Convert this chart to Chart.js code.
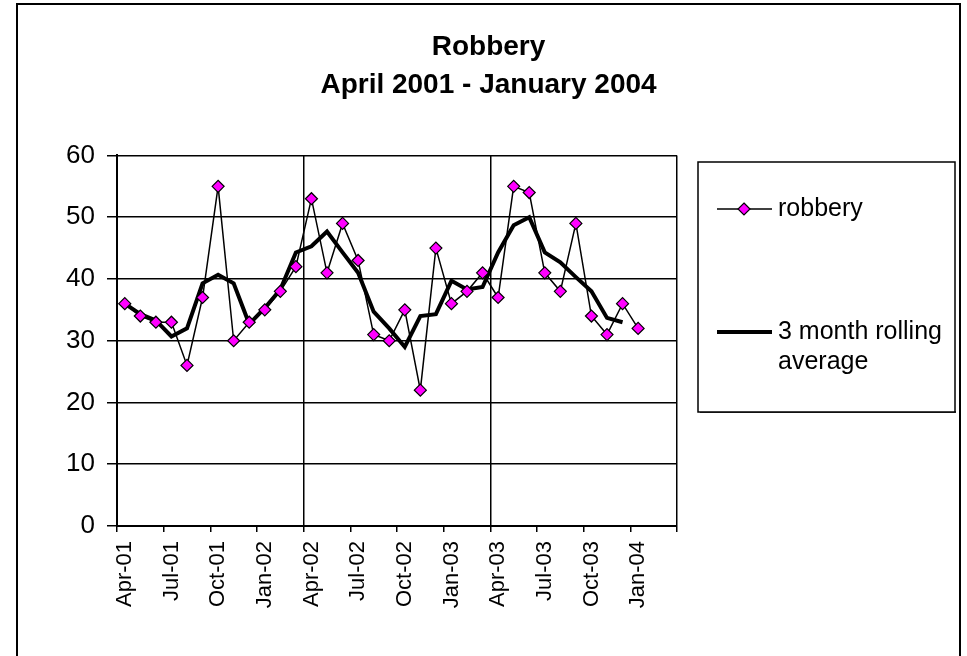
<!DOCTYPE html>
<html>
<head>
<meta charset="utf-8">
<script src="https://cdn.jsdelivr.net/npm/chart.js@4/dist/chart.umd.min.js"></script>
<style>
  html, body { margin: 0; padding: 0; background: #fff; }
  #wrap { width: 967px; height: 656px; position: relative; }
</style>
</head>
<body>
<div id="wrap"><canvas id="c"></canvas></div>
<script>
// ---- Data ----
const titleLines = ['Robbery', 'April 2001 - January 2004'];
const months = [
  'Apr-01','May-01','Jun-01','Jul-01','Aug-01','Sep-01','Oct-01','Nov-01','Dec-01',
  'Jan-02','Feb-02','Mar-02','Apr-02','May-02','Jun-02','Jul-02','Aug-02','Sep-02',
  'Oct-02','Nov-02','Dec-02','Jan-03','Feb-03','Mar-03','Apr-03','May-03','Jun-03',
  'Jul-03','Aug-03','Sep-03','Oct-03','Nov-03','Dec-03','Jan-04','Feb-04','Mar-04'
];
const robbery = [36, 34, 33, 33, 26, 37, 55, 30, 33, 35, 38, 42, 53, 41, 49, 43, 31, 30,
                 35, 22, 45, 36, 38, 41, 37, 55, 54, 41, 38, 49, 34, 31, 36, 32];
const rollingAvg = [36, 34.3, 33.3, 30.7, 32, 39.3, 40.7, 39.3, 32.7, 35.3, 38.3, 44.3,
                    45.3, 47.7, 44.3, 41, 34.7, 32, 29, 34, 34.3, 39.7, 38.3, 38.7,
                    44.3, 48.7, 50, 44.3, 42.7, 40.3, 38, 33.7, 33, null];
const seriesLabels = ['robbery', '3 month rolling average'];
const yTicks = [0, 10, 20, 30, 40, 50, 60];

const FONT = '"Liberation Sans", Arial, Helvetica, sans-serif';
const MAGENTA = '#FF00FF';

// Frame + background
const framePlugin = {
  id: 'frame',
  beforeDraw(chart) {
    const ctx = chart.ctx;
    ctx.save();
    ctx.fillStyle = '#fff';
    ctx.fillRect(0, 0, chart.width, chart.height);
    ctx.strokeStyle = '#000';
    ctx.lineWidth = 2;
    ctx.strokeRect(17, 4, 943, 700);
    ctx.restore();
  }
};

// Legend box drawn from dataset definitions
const legendPlugin = {
  id: 'boxLegend',
  afterDraw(chart) {
    const ctx = chart.ctx;
    const ds = chart.data.datasets;
    ctx.save();
    ctx.fillStyle = '#444';
    ctx.fillRect(700, 411, 256, 2);
    ctx.fillStyle = '#fff';
    ctx.fillRect(698, 162, 257, 250);
    ctx.strokeStyle = '#000';
    ctx.lineWidth = 1.5;
    ctx.strokeRect(698, 162, 257, 250);

    ctx.font = '25px ' + FONT;
    ctx.fillStyle = '#000';
    ctx.textBaseline = 'middle';
    ctx.textAlign = 'left';

    // entry 1: robbery
    let y = 209;
    ctx.strokeStyle = ds[0].borderColor;
    ctx.lineWidth = ds[0].borderWidth;
    ctx.beginPath(); ctx.moveTo(717, y); ctx.lineTo(772, y); ctx.stroke();
    ctx.fillStyle = ds[0].pointBackgroundColor;
    ctx.strokeStyle = ds[0].pointBorderColor;
    ctx.lineWidth = ds[0].pointBorderWidth;
    const r = ds[0].pointRadius;
    ctx.beginPath();
    ctx.moveTo(744, y - r); ctx.lineTo(744 + r, y); ctx.lineTo(744, y + r); ctx.lineTo(744 - r, y); ctx.closePath();
    ctx.fill(); ctx.stroke();
    ctx.fillStyle = '#000';
    ctx.fillText(ds[0].label, 778, y);

    // entry 2: rolling average (wrapped over two lines)
    y = 332;
    ctx.strokeStyle = ds[1].borderColor;
    ctx.lineWidth = ds[1].borderWidth;
    ctx.beginPath(); ctx.moveTo(717, y); ctx.lineTo(772, y); ctx.stroke();
    const words = ds[1].label.split(' ');
    ctx.fillText(words.slice(0, 3).join(' '), 778, y);
    ctx.fillText(words.slice(3).join(' '), 778, y + 30);
    ctx.restore();
  }
};

const isMajor = (c) => c.index === undefined || c.index % 3 === 0;
const isYearLine = (c) => c.index === undefined || c.index === 12 || c.index === 24;

new Chart(document.getElementById('c'), {
  type: 'line',
  data: {
    labels: months,
    datasets: [
      {
        label: seriesLabels[0],
        data: robbery,
        borderColor: '#000',
        borderWidth: 1.5,
        pointStyle: 'rectRot',
        pointRadius: 6,
        pointBackgroundColor: MAGENTA,
        pointBorderColor: '#000',
        pointBorderWidth: 1.2,
        tension: 0,
        fill: false
      },
      {
        label: seriesLabels[1],
        data: rollingAvg,
        borderColor: '#000',
        borderWidth: 4,
        pointRadius: 0,
        tension: 0,
        fill: false
      }
    ]
  },
  options: {
    responsive: true,
    maintainAspectRatio: false,
    animation: false,
    layout: { padding: { left: 10, right: 0, top: 0, bottom: 0 } },
    plugins: {
      legend: { display: false },
      tooltip: { enabled: false },
      title: {
        display: true,
        text: titleLines,
        color: '#000',
        font: { family: FONT, size: 28, weight: 'bold', lineHeight: 1.33 },
        padding: { top: 29, bottom: 52 }
      }
    },
    scales: {
      x: {
        type: 'category',
        offset: true,
        afterFit: (s) => { s.height = 130; },
        grid: {
          offset: true,
          color: (c) => isYearLine(c) ? '#000' : 'rgba(0,0,0,0)',
          lineWidth: 1.5,
          tickColor: (c) => isMajor(c) ? '#000' : 'rgba(0,0,0,0)',
          tickLength: 6,
          tickWidth: 1.5
        },
        border: { display: true, color: '#000', width: 2 },
        ticks: {
          autoSkip: false,
          minRotation: 90,
          maxRotation: 90,
          padding: 9,
          color: '#000',
          font: { family: FONT, size: 22 },
          callback: function (val, i) { return i % 3 === 0 ? months[i] : ''; }
        }
      },
      y: {
        min: yTicks[0],
        max: yTicks[yTicks.length - 1],
        afterFit: (s) => { s.width = 107; },
        afterBuildTicks: (s) => { s.ticks = yTicks.map(v => ({ value: v })); },
        grid: {
          color: '#000',
          lineWidth: 1.5,
          tickLength: 10,
          tickColor: '#000'
        },
        border: { display: true, color: '#000', width: 2 },
        ticks: {
          padding: 12,
          color: '#000',
          font: { family: FONT, size: 26 }
        }
      },
      legendSpace: {
        type: 'linear',
        position: 'right',
        display: true,
        afterFit: (s) => { s.width = 290; },
        grid: { drawOnChartArea: false, drawTicks: false },
        border: { display: false },
        ticks: { display: false }
      }
    }
  },
  plugins: [framePlugin, legendPlugin]
});
</script>
</body>
</html>
